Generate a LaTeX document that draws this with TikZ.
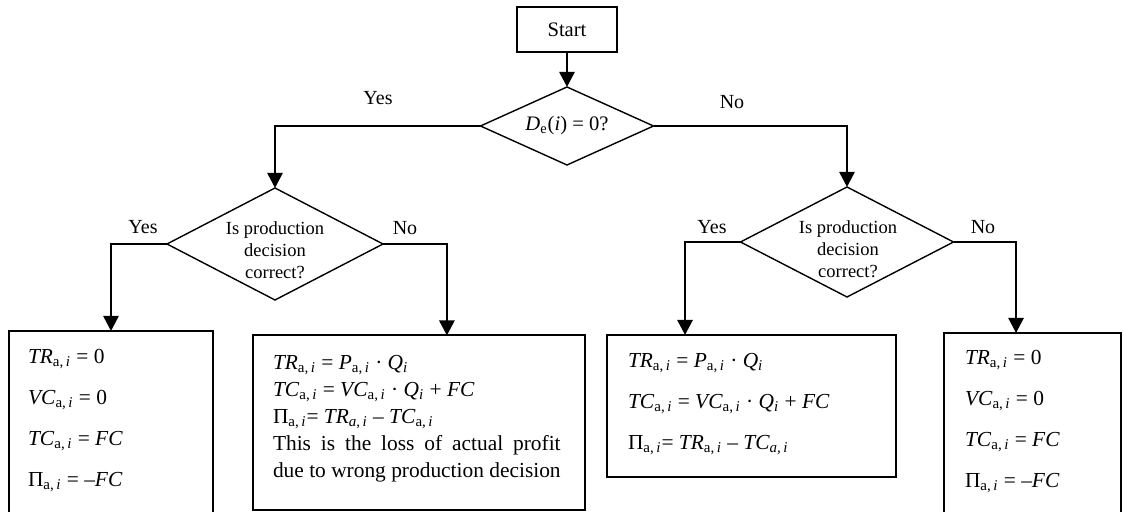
\documentclass[tikz,border=0pt]{standalone}
\usepackage{fontspec}
\setmainfont{Liberation Serif}
\usetikzlibrary{shapes.geometric,arrows.meta,calc}
\newcommand{\ai}{\textsubscript{a,\,\textit{i}}}
\newcommand{\aiI}{\textsubscript{\textit{a,\,i}}}
\newcommand{\Qi}{\textit{Q\textsubscript{i}}}
\newsavebox\duebox
\begin{document}
\begin{tikzpicture}[x=0.5pt,y=-0.5pt,
  every node/.style={inner sep=0pt, outer sep=0pt},
  conn/.style={line width=1.3pt},
  arr/.style={conn,-{Triangle[length=7.5pt,width=7.5pt]}},
  dec/.style={diamond, draw, line width=0.7pt},
  dtext/.style={align=center, font=\fontsize{9.25}{11}\selectfont},
  boxn/.style={draw, line width=1pt},
  lbl/.style={font=\fontsize{10}{12}\selectfont},
  wide/.style={anchor=north west, align=left, font=\fontsize{10.7}{20.5}\selectfont},
  tight/.style={anchor=north west, align=left, font=\fontsize{10.7}{13.5}\selectfont},
]
\useasboundingbox (0,0) rectangle (1125,512);
\clip (0,0) rectangle (1125,512);

% start and decisions
\node[boxn, minimum width=50pt, minimum height=22.5pt, font=\fontsize{10.3}{12}\selectfont] (start) at (567,29.5) {Start};
\node[dec, minimum width=86.5pt, minimum height=39pt] (d1) at (567,126) {};
\node[font=\fontsize{10.3}{12}\selectfont] (d1t) at (d1.center) {\textit{D}\textsubscript{e}(\textit{i}) = 0?};
\node[dec, minimum width=108pt, minimum height=56pt] (d2) at (275,244) {};
\node[dtext] (d2t) at (275,250) {Is production\\decision\\correct?};
\node[dec, minimum width=106.5pt, minimum height=55pt] (d3) at (847,242) {};
\node[dtext] (d3t) at (848,249) {Is production\\decision\\correct?};

% result boxes
\node[boxn, minimum width=102pt, minimum height=104.5pt] (b1) at (111,435.5) {};
\node[boxn, minimum width=166pt, minimum height=87.5pt] (b2) at (419,423) {};
\node[boxn, minimum width=144.5pt, minimum height=71pt] (b3) at (751.5,406) {};
\node[boxn, minimum width=88.5pt, minimum height=103.5pt] (b4) at (1032.5,436.5) {};

\node[wide] (t1) at (28,349) {\textit{TR}\ai{} = 0\\\textit{VC}\ai{} = 0\\\textit{TC}\ai{} = \textit{FC}\\Π\ai{} = –\textit{FC}};
\node[tight] (t2) at (273,355) {\global\setbox\duebox\hbox{due to wrong production decision}\textit{TR}\ai{} = \textit{P}\ai{} · \Qi\\\textit{TC}\ai{} = \textit{VC}\ai{} · \Qi{} + \textit{FC}\\Π\ai{}= \textit{TR}\aiI{} – \textit{TC}\ai\\\makebox[\wd\duebox][s]{This is the loss of actual profit}\\\copy\duebox};
\node[wide] (t3) at (628,353) {\textit{TR}\ai{} = \textit{P}\ai{} · \Qi\\\textit{TC}\ai{} = \textit{VC}\ai{} · \Qi{} + \textit{FC}\\Π\ai{}= \textit{TR}\ai{} – \textit{TC}\aiI};
\node[wide] (t4) at (965,350) {\textit{TR}\ai{} = 0\\\textit{VC}\ai{} = 0\\\textit{TC}\ai{} = \textit{FC}\\Π\ai{} = –\textit{FC}};

% connectors
\draw[arr] (start.south) -- (d1.north);
\draw[arr] (d1.west) -| (d2.north);
\draw[arr] (d1.east) -| (d3.north);
\draw[arr] (d2.west) -| (b1.north);
\draw[arr] (d2.east) -| ($(b2.north west)!0.584!(b2.north east)$);
\draw[arr] (d3.west) -| ($(b3.north west)!0.27!(b3.north east)$);
\draw[arr] (d3.east) -| ($(b4.north west)!0.407!(b4.north east)$);

% branch labels
\node[lbl] (l1) at (378,98) {Yes};
\node[lbl] (l2) at (732,102) {No};
\node[lbl] (l3) at (143,227) {Yes};
\node[lbl] (l4) at (405,228) {No};
\node[lbl] (l5) at (712,227) {Yes};
\node[lbl] (l6) at (983,227) {No};
\end{tikzpicture}
\end{document}
